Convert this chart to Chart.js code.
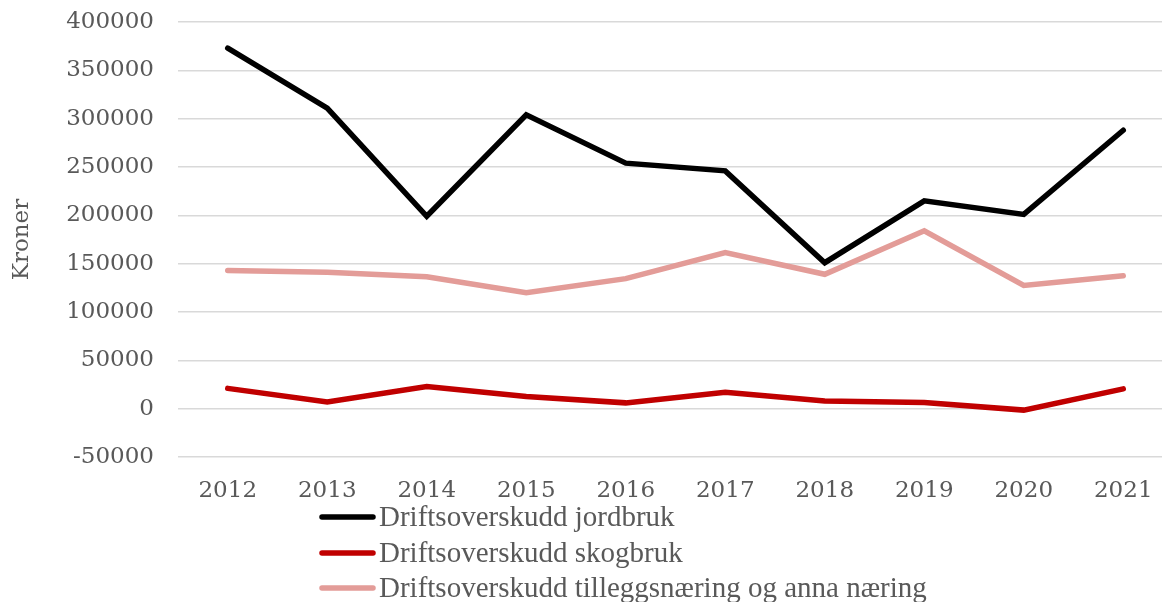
<!DOCTYPE html>
<html>
<head>
<meta charset="utf-8">
<script src="https://cdn.jsdelivr.net/npm/chart.js@4"></script>
<style>
  html, body { margin: 0; padding: 0; background: #fff; overflow: hidden; }
  #wrap { width: 1162px; height: 602px; overflow: hidden; position: relative; }
  #box { width: 1173px; height: 602px; position: absolute; left: 0; top: 0; }
</style>
</head>
<body>
<div id="wrap"><div id="box"><canvas id="c"></canvas></div></div>
<script>
const years = ['2012','2013','2014','2015','2016','2017','2018','2019','2020','2021'];
const jordbruk = [373000, 311000, 199000, 304000, 254000, 246000, 151000, 215000, 201000, 288000];
const skogbruk = [21000, 7000, 23000, 12500, 6000, 17000, 8000, 6500, -1500, 20500];
const tillegg = [143000, 141000, 136500, 120000, 134500, 161500, 139000, 184000, 127500, 137500];
const seriesNames = ['Driftsoverskudd jordbruk', 'Driftsoverskudd skogbruk', 'Driftsoverskudd tilleggsnæring og anna næring'];
const seriesColors = ['#000000', '#C00000', '#E39C98'];
const yTitle = 'Kroner';

const legendPlugin = {
  id: 'stackLegend',
  afterDraw(chart) {
    const ctx = chart.ctx;
    ctx.save();
    const x0 = 320, x1 = 375, tx = 379;
    const rows = [517, 553, 588];
    chart.data.datasets.forEach((ds, i) => {
      const y = rows[i];
      ctx.strokeStyle = ds.borderColor;
      ctx.lineWidth = 5.5;
      ctx.lineCap = 'round';
      ctx.beginPath();
      ctx.moveTo(x0 + 2, y);
      ctx.lineTo(x1 - 2, y);
      ctx.stroke();
      ctx.fillStyle = '#595959';
      ctx.font = '29px "Liberation Serif", serif';
      ctx.textBaseline = 'middle';
      ctx.textAlign = 'left';
      ctx.fillText(ds.label, tx, y + 1);
    });
    ctx.restore();
  }
};

const ds = [jordbruk, skogbruk, tillegg].map((d, i) => ({
  label: seriesNames[i],
  data: d,
  borderColor: seriesColors[i],
  backgroundColor: seriesColors[i],
  borderWidth: 5.5,
  borderCapStyle: 'round',
  borderJoinStyle: 'miter',
  pointRadius: 0,
  tension: 0,
  fill: false
}));

new Chart(document.getElementById('c'), {
  type: 'line',
  data: { labels: years, datasets: ds },
  plugins: [legendPlugin],
  options: {
    responsive: true,
    maintainAspectRatio: false,
    animation: false,
    layout: { padding: { top: 22, left: 0, right: 0, bottom: 0 } },
    plugins: { legend: { display: false }, tooltip: { enabled: false } },
    scales: {
      x: {
        offset: true,
        grid: { display: false, drawTicks: false },
        border: { display: false },
        ticks: { color: '#595959', padding: 20, maxRotation: 0, font: { family: 'DejaVu Serif', size: 23 } },
        afterFit(scale) { scale.height = 145; scale.paddingLeft = 0; scale.paddingRight = 0; }
      },
      y: {
        min: -50000,
        max: 400000,
        grid: { color: '#d9d9d9', lineWidth: 1.5, drawTicks: false },
        border: { display: false },
        ticks: { stepSize: 50000, color: '#595959', padding: 24, font: { family: 'DejaVu Serif', size: 23 },
                 callback: (v) => String(v) },
        title: { display: true, text: yTitle, color: '#595959', font: { family: 'DejaVu Serif', size: 23 }, padding: { top: 8, bottom: 0 } },
        afterFit(scale) { scale.width = 178; scale.paddingTop = 0; scale.paddingBottom = 0; }
      }
    }
  }
});
</script>
</body>
</html>
